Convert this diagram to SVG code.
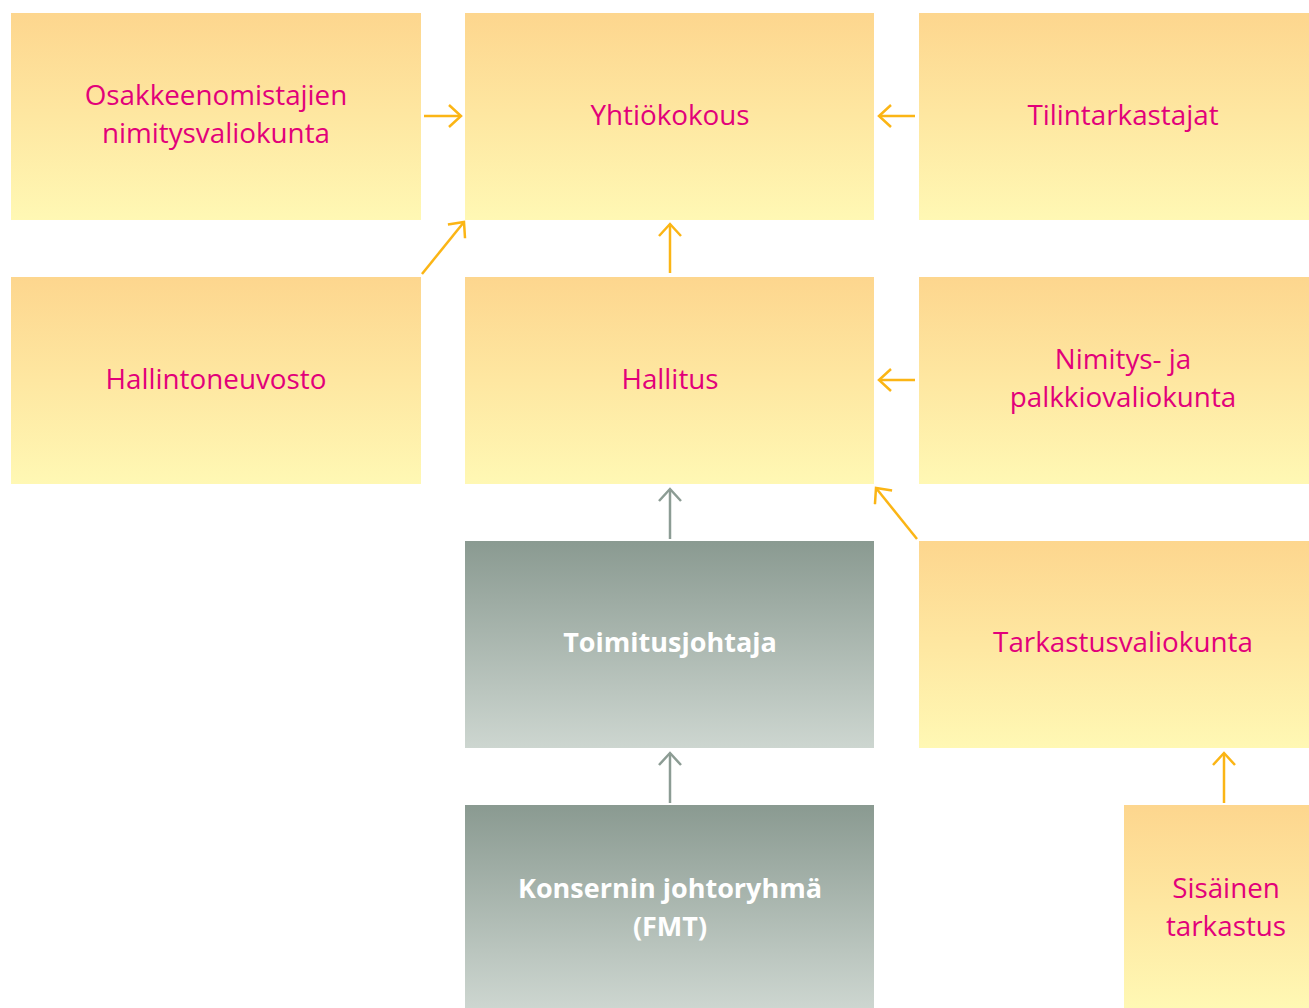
<svg xmlns="http://www.w3.org/2000/svg" width="1309" height="1008" viewBox="0 0 1309 1008">
<defs>
<linearGradient id="gy" x1="0" y1="0" x2="0" y2="1"><stop offset="0" stop-color="#FDD68E"/><stop offset="1" stop-color="#FFF8B4"/></linearGradient>
<linearGradient id="gg" x1="0" y1="0" x2="0" y2="1"><stop offset="0" stop-color="#8A9A91"/><stop offset="1" stop-color="#CDD6D0"/></linearGradient>
<marker id="ho" markerUnits="userSpaceOnUse" markerWidth="30" markerHeight="30" refX="14" refY="12" orient="auto"><path d="M2,1 L14,12 L2,23" fill="none" stroke="#FBB515" stroke-width="2.5"/></marker>
<marker id="hg" markerUnits="userSpaceOnUse" markerWidth="30" markerHeight="30" refX="14" refY="12" orient="auto"><path d="M2,1 L14,12 L2,23" fill="none" stroke="#8C9C94" stroke-width="2.5"/></marker>
</defs>
<style>
.y{fill:url(#gy)}
.g{fill:url(#gg)}
.t{font-family:"Open Sans","Noto Sans",sans-serif;font-size:27.8px;fill:#E2007A;text-anchor:middle}
.w{font-family:"Open Sans","Noto Sans",sans-serif;font-size:27px;font-weight:bold;fill:#FFFFFF;text-anchor:middle}
.ao{stroke:#FBB515;stroke-width:2.5;fill:none;marker-end:url(#ho)}
.ag{stroke:#8C9C94;stroke-width:2.5;fill:none;marker-end:url(#hg)}
</style>
<g id="osakkeenomistajien"><rect class="y" x="11" y="13" width="410" height="207"/><text class="t" x="216" y="105">Osakkeenomistajien</text><text class="t" x="216" y="143">nimitysvaliokunta</text></g>
<g id="yhtiokokous"><rect class="y" x="465" y="13" width="409" height="207"/><text class="t" x="670" y="125">Yhtiökokous</text></g>
<g id="tilintarkastajat"><rect class="y" x="919" y="13" width="390" height="207"/><text class="t" x="1123" y="125">Tilintarkastajat</text></g>
<g id="hallintoneuvosto"><rect class="y" x="11" y="277" width="410" height="207"/><text class="t" x="216" y="389">Hallintoneuvosto</text></g>
<g id="hallitus"><rect class="y" x="465" y="277" width="409" height="207"/><text class="t" x="670" y="389">Hallitus</text></g>
<g id="nimitys"><rect class="y" x="919" y="277" width="390" height="207"/><text class="t" x="1123" y="369">Nimitys- ja</text><text class="t" x="1123" y="407">palkkiovaliokunta</text></g>
<g id="toimitusjohtaja"><rect class="g" x="465" y="541" width="409" height="207"/><text class="w" x="670" y="652">Toimitusjohtaja</text></g>
<g id="tarkastusvaliokunta"><rect class="y" x="919" y="541" width="390" height="207"/><text class="t" x="1123" y="652">Tarkastusvaliokunta</text></g>
<g id="konsernin"><rect class="g" x="465" y="805" width="409" height="203"/><text class="w" x="670" y="898">Konsernin johtoryhmä</text><text class="w" x="670" y="936">(FMT)</text></g>
<g id="sisainen"><rect class="y" x="1124" y="805" width="185" height="203"/><text class="t" x="1226" y="898">Sisäinen</text><text class="t" x="1226" y="936">tarkastus</text></g>
<g id="connectors">
<line class="ao" x1="424" y1="116" x2="461" y2="116"/>
<line class="ao" x1="915" y1="116" x2="879" y2="116"/>
<line class="ao" x1="670" y1="273" x2="670" y2="224"/>
<line class="ao" x1="422" y1="274" x2="464" y2="222"/>
<line class="ao" x1="915" y1="380" x2="879" y2="380"/>
<line class="ag" x1="670" y1="539" x2="670" y2="489"/>
<line class="ao" x1="917" y1="539" x2="876" y2="488"/>
<line class="ag" x1="670" y1="803" x2="670" y2="753"/>
<line class="ao" x1="1224" y1="803" x2="1224" y2="753"/>
</g>
</svg>
